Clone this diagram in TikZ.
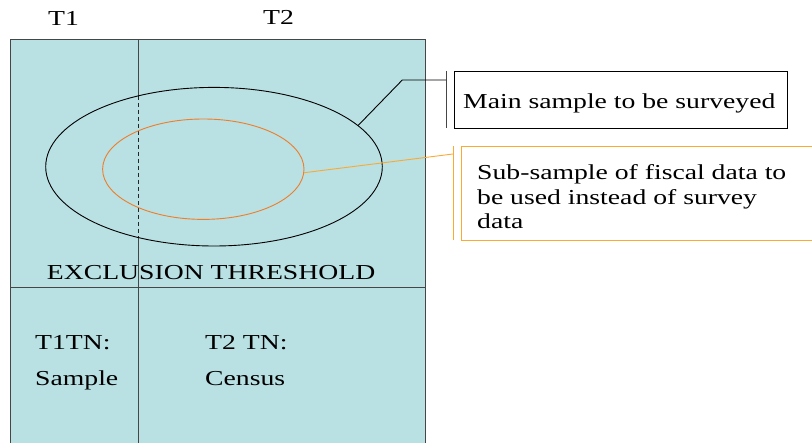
\documentclass[tikz,border=0pt]{standalone}
\usepackage{fontspec}
\setmainfont{Liberation Serif}[FakeStretch=1.3]
\usetikzlibrary{shapes.geometric}
\definecolor{paleblue}{RGB}{185,224,227}
\definecolor{framegray}{RGB}{70,70,70}
\definecolor{ovalorange}{RGB}{240,125,40}
\definecolor{boxorange}{RGB}{250,170,50}
\tikzset{
  lbl/.style={inner sep=0pt, anchor=base west, font=\fontsize{21.3}{24.5}\selectfont},
  frameline/.style={draw=framegray, line width=1pt},
  divdash/.style={draw=black!85, line width=1.3pt, dash pattern=on 4.5pt off 2.5pt},
}
\begin{document}
\begin{tikzpicture}[x=1pt,y=-1pt]
\useasboundingbox (0,0) rectangle (812,443);
% panel
\fill[paleblue] (10,40) rectangle (425,446);
\draw[frameline] (10,446) -- (10,40) -- (425,40) -- (425,446);
\draw[frameline] (10,288) -- (425,288);
% vertical divider
\coordinate (dtop) at (138.7,40);
\coordinate (d1) at (138.7,95.8);
\coordinate (d2) at (138.7,237.6);
\coordinate (dbot) at (138.7,446);
\draw[frameline] (dtop) -- (d1);
\draw[divdash] (d1) -- (d2);
\draw[frameline] (d2) -- (dbot);
% ellipses
\node[ellipse, draw=black, line width=0.9pt, minimum width=336.6pt, minimum height=158.6pt, inner sep=0pt] (big) at (214,166.7) {};
\node[ellipse, draw=ovalorange, line width=0.9pt, minimum width=201.4pt, minimum height=100.4pt, inner sep=0pt] (small) at (203.3,169.2) {};
% top labels
\node[lbl] (t1) at (48,26) {T1};
\node[lbl] (t2) at (263,25) {T2};
% threshold and bottom labels
\node[lbl] (excl) at (46.7,280) {EXCLUSION THRESHOLD};
\node[lbl] (t1tn) at (35,350) {T1TN:};
\node[lbl] (samp) at (35,386) {Sample};
\node[lbl] (t2tn) at (205,350) {T2 TN:};
\node[lbl] (cens) at (205,386) {Census};
% main sample callout
\node[draw=black, line width=0.9pt, minimum width=333pt, minimum height=57pt, inner sep=0pt, anchor=north west] (mainbox) at (454,71) {};
\node[lbl] (maintxt) at (463,109) {Main sample to be surveyed};
\coordinate (mbar1) at (446,71);
\coordinate (mbar2) at (446,128);
\coordinate (mknee) at (402.3,80);
\coordinate (mend) at (446,80);
\draw[framegray, line width=0.9pt] (mbar1) -- (mbar2);
\draw[black, line width=0.9pt] (big.16.4) -- (mknee) -- (mend);
% sub-sample callout
\coordinate (sb1) at (812,146);
\coordinate (sb2) at (461,146);
\coordinate (sb3) at (461,240);
\coordinate (sb4) at (812,240);
\draw[boxorange, line width=0.9pt] (sb1) -- (sb2) -- (sb3) -- (sb4);
\node[lbl, align=left] (subtxt) at (477,229) {Sub-sample of fiscal data to\\be used instead of survey\\data};
\coordinate (obar1) at (453,146);
\coordinate (obar2) at (453,240);
\coordinate (oend) at (453,154);
\draw[boxorange, line width=1pt] (obar1) -- (obar2);
\draw[boxorange, line width=0.9pt] (small.-2) -- (oend);
\end{tikzpicture}
\end{document}
